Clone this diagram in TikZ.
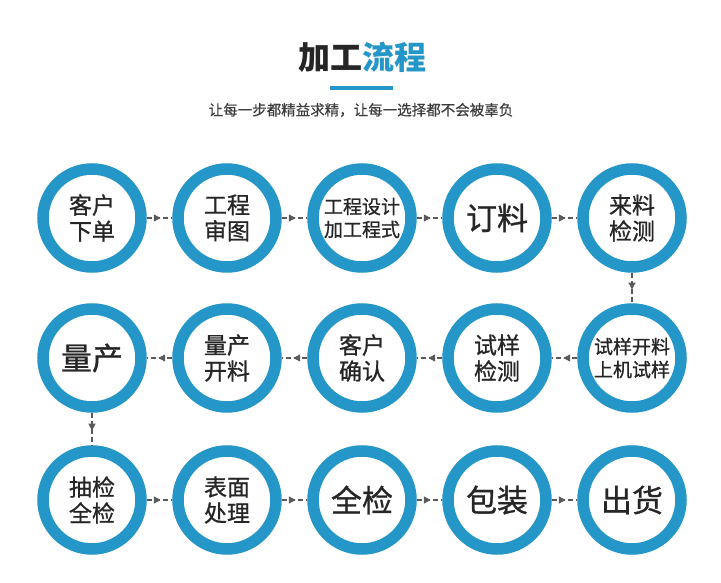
\documentclass[tikz,border=0pt]{standalone}
\usepackage{fontspec}
\setmainfont{Noto Sans CJK SC}
\newfontfamily\circfont{Noto Sans CJK SC}[FakeBold=0.9]
\newfontfamily\subfont{Noto Sans CJK SC}[FakeBold=0.4]
\usetikzlibrary{decorations.markings,arrows.meta}
\definecolor{ringblue}{RGB}{37,150,200}
\definecolor{txtdark}{RGB}{38,38,38}
\definecolor{subgray}{RGB}{60,60,60}
\definecolor{arrgray}{RGB}{90,90,90}
\begin{document}
\begin{tikzpicture}[x=1pt,y=-1pt,
  ring/.style={circle,draw=ringblue,line width=11.5pt,minimum size=98pt,inner sep=0pt,outer sep=5.75pt,fill=white,text=txtdark,align=center},
  two/.style={ring,font=\circfont\fontsize{23}{26}\selectfont},
  four/.style={ring,font=\circfont\fontsize{19}{23}\selectfont},
  big/.style={ring,font=\circfont\fontsize{31}{34}\selectfont},
  flow/.style={draw=arrgray,line width=1.2pt,dash pattern=on 5pt off 3pt,
    postaction={decorate},
    decoration={markings,mark=at position 0.55 with {\arrow[arrgray]{Triangle[length=7pt,width=7pt]}}}}
]
\useasboundingbox (0,0) rectangle (721,583);
\fill[white] (0,0) rectangle (721,583);
% title
\node[font=\fontsize{32}{36}\selectfont\bfseries] (title) at (362,57) {\textcolor{txtdark}{加工}\textcolor{ringblue}{流程}};
\fill[ringblue] (330,86) rectangle (393,90);
\node[font=\subfont\fontsize{14.5}{16}\selectfont,text=subgray] (sub) at (361,110) {让每一步都精益求精，让每一选择都不会被辜负};
% row 1
\node[two]  (c1) at (92,218)  {客户\\下单};
\node[two]  (c2) at (227,218) {工程\\审图};
\node[four] (c3) at (362,218) {工程设计\\加工程式};
\node[big]  (c4) at (497,218) {订料};
\node[two]  (c5) at (632,218) {来料\\检测};
% row 2
\node[four] (c6) at (632,358) {试样开料\\上机试样};
\node[two]  (c7) at (497,358) {试样\\检测};
\node[two]  (c8) at (362,358) {客户\\确认};
\node[two]  (c9) at (227,358) {量产\\开料};
\node[big]  (c10) at (92,358) {量产};
% row 3
\node[two]  (c11) at (92,500)  {抽检\\全检};
\node[two]  (c12) at (227,500) {表面\\处理};
\node[big]  (c13) at (362,500) {全检};
\node[big]  (c14) at (497,500) {包装};
\node[big]  (c15) at (632,500) {出货};
% connectors
\draw[flow] (c1) -- (c2);
\draw[flow] (c2) -- (c3);
\draw[flow] (c3) -- (c4);
\draw[flow] (c4) -- (c5);
\draw[flow] (c5) -- (c6);
\draw[flow] (c6) -- (c7);
\draw[flow] (c7) -- (c8);
\draw[flow] (c8) -- (c9);
\draw[flow] (c9) -- (c10);
\draw[flow] (c10) -- (c11);
\draw[flow] (c11) -- (c12);
\draw[flow] (c12) -- (c13);
\draw[flow] (c13) -- (c14);
\draw[flow] (c14) -- (c15);
\end{tikzpicture}
\end{document}
